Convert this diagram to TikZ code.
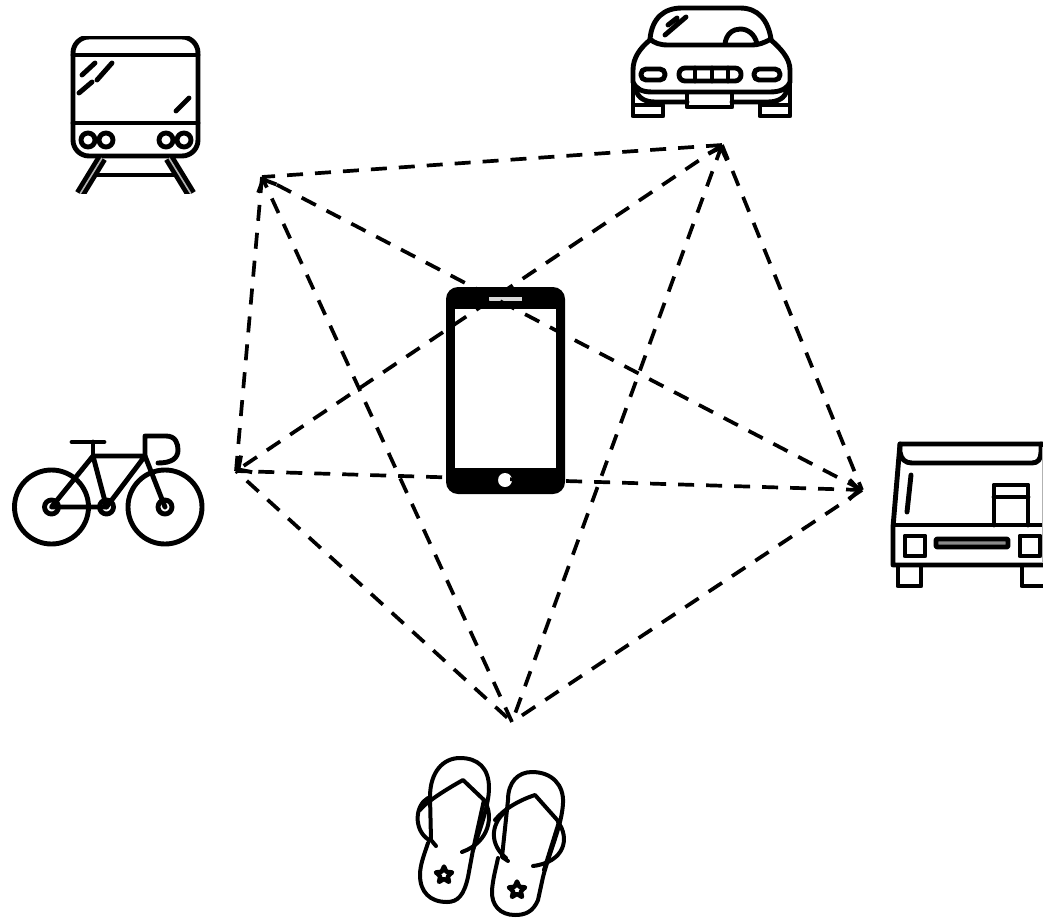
\documentclass[tikz,border=0pt]{standalone}
\usetikzlibrary{arrows.meta,calc,shapes.geometric}
\tikzset{
 link/.style={draw=black,line width=3.7pt,dash pattern=on 16pt off 12pt},
 tipmark/.style={draw=black,line width=3.7pt,-{Straight Barb[length=10pt,width=20pt,line width=3.9pt]}},
 icon/.style={draw=black,line width=4.9pt,line join=round,line cap=round,fill=none},
 flip/.style={icon,line width=4pt},
 flower/.style={star,star points=5,star point ratio=2.1,draw=black,line width=4.4pt,minimum size=17pt,inner sep=0pt,line join=round},
}
\begin{document}
\begin{tikzpicture}[x=1pt,y=-1pt]
\useasboundingbox (0,0) rectangle (1043,918);
\coordinate (A) at (262,177);
\coordinate (B) at (722,145);
\coordinate (C) at (862,490);
\coordinate (D) at (512,722);
\coordinate (E) at (236,471);
% phone
\fill[black,rounded corners=12pt] (446,287) rectangle (565,494);
\fill[white] (455,309) rectangle (556,468);
\fill[white!85!black] (489,297) rectangle (522,301);
\fill[white] (505,480) circle (7);
% connectors
\draw[link] (B) -- (A);
\draw[link] (A) -- (E);
\draw[link,dash phase=21.5pt] (D) -- (E);
\draw[link] (C) -- (D);
\draw[link] (B) -- (C);
\draw[link] (B) -- (E);
\draw[link] (C) -- (E);
\draw[link] (C) -- (A);
\draw[link] (D) -- (A);
\draw[link] (B) -- (D);
\draw[tipmark] ($(A)!2pt!(D)$) -- (A);
\draw[tipmark] ($(B)!2pt!(D)$) -- (B);
\draw[tipmark] ($(E)!2pt!(B)$) -- (E);
\draw[tipmark] ($(C)!2pt!(E)$) -- (C);
% train
\begin{scope}
\clip (60,36) rectangle (210,193);
\draw[icon,rounded corners=16pt] (73,37) rectangle (198,156);
\draw[icon] (73,55) -- (198,55) (73,123) -- (198,123);
\draw[icon] (82,75) -- (95,63) (97,80) -- (112,63) (79,93) -- (92,82) (176,111) -- (189,98);
\draw[icon] (88,140) circle (7) (106,140) circle (7) (166,140) circle (7) (184,140) circle (7);
\draw[draw=black,line width=11pt] (102,158) -- (80,194) (169,158) -- (191,194);
\draw[draw=white!70!black,line width=1.6pt] (102,158) -- (80,194) (169,158) -- (191,194);
\draw[icon] (97,175) -- (175,175);
\end{scope}
% car
\draw[icon] (650,39) .. controls (652,18) and (664,8) .. (682,8) -- (740,8) .. controls (758,8) and (768,20) .. (771,39) .. controls (764,43) and (758,45) .. (752,45) -- (668,45) .. controls (660,45) and (654,43) .. (650,39) -- cycle;
\draw[icon] (725,44) .. controls (727,24) and (753,24) .. (757,44);
\draw[icon] (665,35) -- (686,17) (668,25) -- (677,18);
\draw[icon] (650,40) .. controls (640,48) and (633,58) .. (633,70) -- (633,82) .. controls (636,89) and (642,92) .. (652,92) -- (770,92) .. controls (780,92) and (787,89) .. (790,82) -- (790,70) .. controls (790,58) and (780,48) .. (771,40);
\draw[icon,rounded corners=5pt] (641,69) rectangle (665,80);
\draw[icon,rounded corners=5pt] (754,69) rectangle (780,80);
\draw[icon,rounded corners=6pt] (679,68) rectangle (741,81);
\draw[icon] (695,68) -- (695,81) (712,68) -- (712,81) (728,68) -- (728,81);
\draw[icon] (633,84) -- (633,116) -- (663,116) -- (663,105) -- (635,105);
\draw[icon] (790,84) -- (790,116) -- (760,116) -- (760,105) -- (788,105);
\draw[icon] (687,94) -- (687,107) -- (732,107) -- (732,94);
\draw[icon] (636,90) .. controls (638,98) and (645,102) .. (655,102) -- (687,102);
\draw[icon] (787,90) .. controls (785,98) and (778,102) .. (768,102) -- (732,102);
% bicycle
\draw[icon] (51.5,507) circle (37) (165,507) circle (37);
\draw[icon] (51.5,507) circle (7) (106.5,507) circle (7) (165,507) circle (7);
\draw[icon] (51.5,507) -- (93,456) -- (106.5,507) -- cycle;
\draw[icon] (93,456) -- (145,456) (106.5,507) -- (145,456) -- (165,507);
\draw[icon] (72,442) -- (104,442) (93,442) -- (93,456);
\draw[icon] (145,456) -- (145,436) -- (166,436) .. controls (176,436) and (178,444) .. (178,450) .. controls (178,458) and (172,463) .. (158,463);
% bus
\draw[icon] (1043,444) -- (900,444) -- (893,527) -- (893,565) -- (1043,565);
\draw[icon] (900,444) -- (900,452) .. controls (901,459) and (905,463) .. (912,463) -- (1032,463) .. controls (1038,463) and (1041,459) .. (1041,452) -- (1041,444);
\draw[icon] (911,475) -- (907,512);
\draw[icon] (895,525) -- (1043,525);
\draw[icon] (994,525) -- (994,485) -- (1028,485) -- (1028,525) (994,497) -- (1028,497);
\draw[draw=white!70!black,line width=1pt] (1042.5,447) -- (1042.5,563);
\draw[icon] (905,536) rectangle (925,556);
\draw[icon] (1020,536) rectangle (1040,556);
\draw[icon,fill=black!45,rounded corners=1pt] (936,539) rectangle (1008,547);
\draw[icon] (898,566) -- (898,586) -- (921,586) -- (921,566);
\draw[icon] (1043,586) -- (1022,586) -- (1022,566);
% left flip-flop
\draw[flip] (430,797) .. controls (430,772) and (443,758) .. (460,758) .. controls (478,758) and (489,768) .. (489,788) .. controls (489,806) and (478,835) .. (473,850) -- (468,877) .. controls (464,895) and (458,902) .. (447,902) .. controls (430,902) and (420,892) .. (420,875) .. controls (420,865) and (424,855) .. (428,843);
\draw[flip] (430,797) -- (431,840) -- (436,846);
\draw[flip] (420,810) .. controls (425,803) and (445,790) .. (463,780) -- (484,800) -- (473,850);
\draw[flip] (428,798) .. controls (415,805) and (413,830) .. (429,840);
\draw[flip] (484,800) .. controls (494,815) and (490,842) .. (462,852);
\node[flower] (flowerleft) at (444,875) {};
% right flip-flop
\draw[flip] (508,800) .. controls (508,782) and (518,772) .. (532,772) .. controls (552,772) and (564,785) .. (563,803) .. controls (562,825) and (550,850) .. (543,877) -- (538,900) .. controls (533,912) and (525,915) .. (515,915) .. controls (500,915) and (491,905) .. (492,890) .. controls (493,878) and (496,868) .. (498,858);
\draw[flip] (508,800) -- (502,857) -- (508,861);
\draw[flip] (495,820) .. controls (505,808) and (520,800) .. (535,795) -- (559,822) -- (544,870);
\draw[flip] (505,812) .. controls (490,825) and (490,845) .. (506,858);
\draw[flip] (558,822) .. controls (570,838) and (565,862) .. (533,866);
\node[flower] (flowerright) at (517,890) {};
\end{tikzpicture}
\end{document}
